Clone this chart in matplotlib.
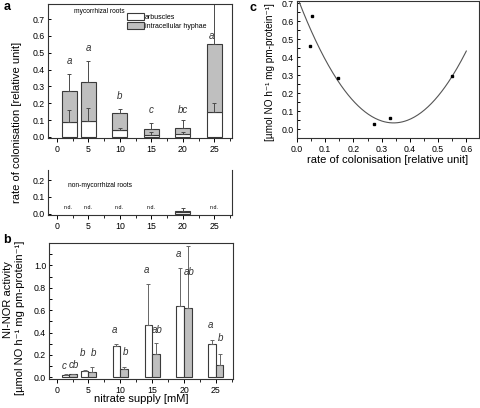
import matplotlib
matplotlib.use("Agg")
import matplotlib.pyplot as plt
import numpy as np
from matplotlib.patches import Patch
from matplotlib.ticker import MultipleLocator

plt.rcParams['font.family'] = ['Liberation Sans', 'DejaVu Sans']

# ---- data ----
nitrate = [2, 5, 10, 15, 20, 25]
xticks = [0, 5, 10, 15, 20, 25]

arbuscles = [0.09, 0.095, 0.038, 0.010, 0.015, 0.145]
arbuscles_sd = [0.07, 0.078, 0.015, 0.018, 0.012, 0.055]
hyphae = [0.183, 0.233, 0.105, 0.035, 0.037, 0.405]
total_sd = [0.10, 0.122, 0.022, 0.04, 0.048, 0.25]
letters_a = ['a', 'a', 'b', 'c', 'bc', 'a']
letters_a_y = [0.45, 0.53, 0.24, 0.16, 0.16, 0.60]
letters_a_x = [2, 5, 10, 15, 20, 24.5]

nonmyc_x = [20]
nonmyc_arb = [0.008]
nonmyc_hyph = [0.010]
nonmyc_sd = [0.019]
nd_x = [1.8, 4.9, 9.9, 15, 25]

nor_myc = [0.025, 0.06, 0.282, 0.468, 0.64, 0.295]
nor_myc_sd = [0.004, 0.006, 0.015, 0.367, 0.333, 0.038]
nor_non = [0.03, 0.048, 0.072, 0.204, 0.619, 0.108]
nor_non_sd = [0.004, 0.04, 0.021, 0.10, 0.555, 0.096]
letters_b_myc = ['c', 'b', 'a', 'a', 'a', 'a']
letters_b_myc_y = [0.06, 0.17, 0.38, 0.91, 1.06, 0.42]
letters_b_non = ['cb', 'b', 'b', 'ab', 'ab', 'b']
letters_b_non_y = [0.065, 0.17, 0.18, 0.38, 0.90, 0.31]

colon = [0.045, 0.052, 0.145, 0.273, 0.33, 0.55]
nor_c = [0.465, 0.632, 0.283, 0.028, 0.06, 0.298]
fit_coef = [6.02, -4.12, 0.739]

W, H = 480, 408
fig = plt.figure(figsize=(W / 100, H / 100), dpi=100)

def ax_px(l, t, r, b):
    return fig.add_axes([l / W, 1 - b / H, (r - l) / W, (b - t) / H])

grey = '#bfbfbf'
edge = '#3a3a3a'
ecol = '#4a4a4a'
tfs = 6.3

def style(ax):
    for s in ax.spines.values():
        s.set_linewidth(0.8)
        s.set_color('#333333')
    ax.tick_params(axis='x', direction='out', length=3, width=0.7, labelsize=tfs, pad=2)
    ax.tick_params(axis='x', which='minor', direction='out', length=1.8, width=0.6)
    ax.tick_params(axis='y', which='both', direction='in', length=2.5, width=0.7, labelsize=tfs, pad=2)

# ---- panel a top ----
ax1 = ax_px(48, 4, 232, 138)
bw = 2.4
ax1.bar(nitrate, arbuscles, width=bw, color='white', edgecolor=edge, linewidth=0.8)
ax1.bar(nitrate, hyphae, width=bw, bottom=arbuscles, color=grey, edgecolor=edge, linewidth=0.8)
tot = np.array(arbuscles) + np.array(hyphae)
ax1.errorbar(nitrate, arbuscles, yerr=[np.zeros(6), arbuscles_sd], fmt='none',
             ecolor=ecol, elinewidth=0.7, capsize=1.5, capthick=0.7)
ax1.errorbar(nitrate, tot, yerr=[np.zeros(6), total_sd], fmt='none',
             ecolor=ecol, elinewidth=0.7, capsize=1.5, capthick=0.7)
for x, y, t in zip(letters_a_x, letters_a_y, letters_a):
    ax1.text(x, y, t, ha='center', va='center', fontsize=7, style='italic', color='#333')
ax1.text(6.8, 0.745, 'mycorrhizal roots', fontsize=4.8, ha='center', va='center')
ax1.set_xlim(-1.4, 27.8)
ax1.set_ylim(-0.007, 0.79)
ax1.set_xticks(xticks)
ax1.xaxis.set_minor_locator(MultipleLocator(2.5))
ax1.set_yticks(np.arange(0, 0.75, 0.1))
ax1.set_yticklabels([f'{v:.1f}' for v in np.arange(0, 0.75, 0.1)])
style(ax1)
ax1.legend(handles=[Patch(facecolor='white', edgecolor=edge, linewidth=0.8, label='arbuscles'),
                    Patch(facecolor=grey, edgecolor=edge, linewidth=0.8, label='intracellular hyphae')],
           loc='upper left', bbox_to_anchor=(0.43, 0.935), frameon=False, fontsize=5.0,
           handlelength=2.4, handleheight=1.2, handletextpad=0.2, labelspacing=0.25,
           borderaxespad=0, borderpad=0)

# ---- panel a lower ----
ax2 = ax_px(48, 170, 232, 215)
ax2.bar(nonmyc_x, nonmyc_arb, width=bw, color='white', edgecolor=edge, linewidth=0.8)
ax2.bar(nonmyc_x, nonmyc_hyph, width=bw, bottom=nonmyc_arb, color=grey, edgecolor=edge, linewidth=0.8)
ax2.errorbar(nonmyc_x, np.array(nonmyc_arb) + np.array(nonmyc_hyph), yerr=[[0], nonmyc_sd],
             fmt='none', ecolor=ecol, elinewidth=0.7, capsize=1.5, capthick=0.7)
for x in nd_x:
    ax2.text(x, 0.04, 'n.d.', fontsize=3.8, ha='center', va='center')
ax2.text(6.8, 0.17, 'non-mycorrhizal roots', fontsize=4.8, ha='center', va='center')
ax2.set_xlim(-1.4, 27.8)
ax2.set_ylim(-0.007, 0.26)
ax2.set_xticks(xticks)
ax2.xaxis.set_minor_locator(MultipleLocator(2.5))
ax2.set_yticks([0, 0.1, 0.2])
ax2.set_yticklabels(['0.0', '0.1', '0.2'])
style(ax2)
ax2.spines['top'].set_visible(False)

# ---- panel b ----
ax3 = ax_px(49, 243, 233, 379)
w2 = 1.2
xm = np.array(nitrate) - w2 / 2
xn = np.array(nitrate) + w2 / 2
ax3.bar(xm, nor_myc, width=w2, color='white', edgecolor=edge, linewidth=0.8)
ax3.bar(xn, nor_non, width=w2, color=grey, edgecolor=edge, linewidth=0.8)
ax3.errorbar(xm, nor_myc, yerr=[np.zeros(6), nor_myc_sd], fmt='none',
             ecolor='#666', elinewidth=0.7, capsize=1.5, capthick=0.7)
ax3.errorbar(xn, nor_non, yerr=[np.zeros(6), nor_non_sd], fmt='none',
             ecolor='#666', elinewidth=0.7, capsize=1.5, capthick=0.7)
for x, y, t in zip(xm - 0.3, letters_b_myc_y, letters_b_myc):
    ax3.text(x, y, t, ha='center', va='bottom', fontsize=7, style='italic', color='#333')
for x, y, t in zip(xn + 0.15, letters_b_non_y, letters_b_non):
    ax3.text(x, y, t, ha='center', va='bottom', fontsize=7, style='italic', color='#333')
ax3.set_xlim(-1.2, 27.7)
ax3.set_ylim(-0.015, 1.2)
ax3.set_xticks(xticks)
ax3.xaxis.set_minor_locator(MultipleLocator(2.5))
ax3.set_yticks(np.arange(0, 1.05, 0.2))
ax3.set_yticklabels([f'{v:.1f}' for v in np.arange(0, 1.05, 0.2)])
ax3.yaxis.set_minor_locator(MultipleLocator(0.1))
style(ax3)

# ---- panel c ----
ax4 = ax_px(297, 1, 479, 138)
xs = np.linspace(0, 0.6, 200)
ax4.plot(xs, np.polyval(fit_coef, xs), color='#555', linewidth=0.8)
ax4.plot(colon, nor_c, 's', color='black', markersize=1.6)
ax4.set_xlim(0, 0.645)
ax4.set_ylim(-0.05, 0.713)
ax4.set_xticks(np.arange(0, 0.65, 0.1))
ax4.set_xticklabels([f'{v:.1f}' for v in np.arange(0, 0.65, 0.1)])
ax4.set_yticks(np.arange(0, 0.75, 0.1))
ax4.set_yticklabels([f'{v:.1f}' for v in np.arange(0, 0.75, 0.1)])
ax4.xaxis.set_minor_locator(MultipleLocator(0.05))
ax4.yaxis.set_minor_locator(MultipleLocator(0.05))
style(ax4)

# ---- labels ----
lfs = 8
fig.text(17 / W, 1 - 122 / H, 'rate of colonisation [relative unit]', rotation=90,
         ha='center', va='center', fontsize=lfs)
fig.text(8 / W, 1 - 300 / H, 'NI-NOR activity', rotation=90, ha='center', va='center', fontsize=lfs)
fig.text(20 / W, 1 - 318 / H, '[µmol NO h⁻¹ mg pm-protein⁻¹]', rotation=90,
         ha='center', va='center', fontsize=lfs)
fig.text(141 / W, 1 - 399 / H, 'nitrate supply [mM]', ha='center', va='center', fontsize=lfs)
fig.text(270 / W, 1 - 72 / H, '[µmol NO h⁻¹ mg pm-protein⁻¹]', rotation=90,
         ha='center', va='center', fontsize=7.2)
fig.text(388 / W, 1 - 160 / H, 'rate of colonisation [relative unit]', ha='center', va='center',
         fontsize=lfs)
fig.text(7 / W, 1 - 7 / H, 'a', fontsize=9, fontweight='bold', ha='center', va='center')
fig.text(7 / W, 1 - 240 / H, 'b', fontsize=9, fontweight='bold', ha='center', va='center')
fig.text(253 / W, 1 - 8 / H, 'c', fontsize=9, fontweight='bold', ha='center', va='center')

fig.savefig('out.png', dpi=100)
